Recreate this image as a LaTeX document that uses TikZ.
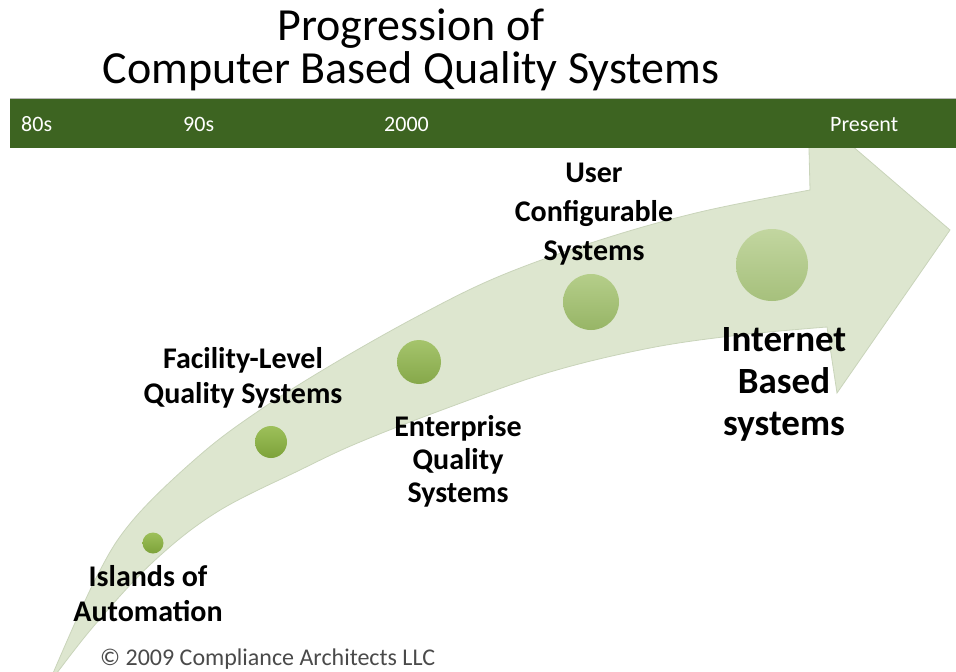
\documentclass[tikz,border=0pt]{standalone}
\usepackage{fontspec}
\setmainfont{Carlito}
\usetikzlibrary{positioning}

\definecolor{barGreen}{HTML}{3D6421}
\definecolor{arrowFill}{HTML}{DDE6CF}
\definecolor{arrowLine}{HTML}{C9D4BA}
\definecolor{noteGray}{HTML}{4A4A4A}
\definecolor{ballA}{HTML}{9DC05A}
\definecolor{ballAd}{HTML}{7DA23A}
\definecolor{ballB}{HTML}{A5C46C}
\definecolor{ballBd}{HTML}{86A84A}
\definecolor{ballC}{HTML}{B5CE8A}
\definecolor{ballCd}{HTML}{97B566}
\definecolor{ballD}{HTML}{C2D6A0}
\definecolor{ballDd}{HTML}{A6C07C}

\begin{document}
\begin{tikzpicture}[x=1pt,y=-1pt,
  ball/.style n args={3}{circle,inner sep=0pt,minimum size=#1,top color=#2,bottom color=#3},
  stage/.style={font=\fontsize{30}{35}\selectfont\bfseries,align=center,anchor=base,inner sep=0pt},
  era/.style={font=\fontsize{22}{26}\selectfont,text=white,anchor=base west,inner sep=0pt}]
  \useasboundingbox (0,0) rectangle (956,672);
  % curved arrow: upper edge, head, then lower edge back to the tail
  \filldraw[fill=arrowFill,draw=arrowLine,line width=0.8pt]
    plot[smooth,tension=0.6] coordinates {(48,685) (95,580) (133,520) (200,455) (260,410)
      (333,364) (420,315) (500,276) (600,240) (700,212) (810,190)}
    -- (808,108) -- (950,230) -- (837,393) -- (827,327)
    -- plot[smooth,tension=0.6] coordinates {(827,327) (740,335) (650,348) (550,372)
      (450,407) (360,442) (300,470) (217,512) (153,562) (93,627) (48,685)}
    -- cycle;
  % time line
  \fill[barGreen] (10,98) rectangle (956,148);
  \draw[gray!55,line width=1pt] (10,98) -- (956,98);
  \node[era] (eighties) at (21,131) {80s};
  \node[era] (nineties) at (183,131) {90s};
  \node[era] (twoK) at (384,131) {2000};
  \node[era] (present) at (830,131) {Present};
  % title (base = last line)
  \node[font=\fontsize{46}{43}\selectfont,align=center,anchor=base,inner sep=0pt] (title)
    at (411,83) {Progression of\\Computer Based Quality Systems};
  % stages along the arrow
  \node[ball={21pt}{ballA}{ballAd}] (islands) at (153,543) {};
  \node[ball={32pt}{ballA}{ballAd}] (facility) at (271,442) {};
  \node[ball={44pt}{ballB}{ballBd}] (enterprise) at (419,362) {};
  \node[ball={56pt}{ballC}{ballCd}] (userConf) at (591,302) {};
  \node[ball={72pt}{ballD}{ballDd}] (internet) at (772,265) {};
  \node[stage] (islandsText) at (148,621) {Islands of\\Automation};
  \node[stage] (facilityText) at (243,403) {Facility-Level\\Quality Systems};
  \node[stage,font=\fontsize{30}{33}\selectfont\bfseries] (enterpriseText) at (458,502) {Enterprise\\Quality\\Systems};
  \node[stage,font=\fontsize{30}{39}\selectfont\bfseries] (userConfText) at (594,260) {User\\Configurable\\Systems};
  \node[stage,font=\fontsize{37}{42}\selectfont\bfseries] (internetText) at (784,435) {Internet\\Based\\systems};
  \node[font=\fontsize{24}{28}\selectfont,text=noteGray,anchor=base west,inner sep=0pt] (note)
    at (100,665) {© 2009 Compliance Architects LLC};
\end{tikzpicture}
\end{document}
